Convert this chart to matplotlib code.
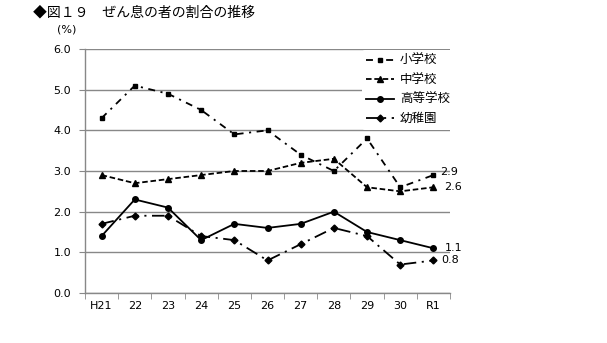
import matplotlib
matplotlib.use("Agg")
import matplotlib.pyplot as plt
import numpy as np

plt.rcParams['font.family'] = ['Noto Sans CJK JP', 'DejaVu Sans']
plt.rcParams['lines.scale_dashes'] = False

categories = ["H21", "22", "23", "24", "25", "26", "27", "28", "29", "30", "R1"]
shogakko = [4.3, 5.1, 4.9, 4.5, 3.9, 4.0, 3.4, 3.0, 3.8, 2.6, 2.9]
chugakko = [2.9, 2.7, 2.8, 2.9, 3.0, 3.0, 3.2, 3.3, 2.6, 2.5, 2.6]
kotogakko = [1.4, 2.3, 2.1, 1.3, 1.7, 1.6, 1.7, 2.0, 1.5, 1.3, 1.1]
yochien = [1.7, 1.9, 1.9, 1.4, 1.3, 0.8, 1.2, 1.6, 1.4, 0.7, 0.8]
series_names = ["小学校", "中学校", "高等学校", "幼稚園"]

fig = plt.figure(figsize=(6.07, 3.43), dpi=100)
ax = fig.add_axes([85/607, 1-293/343, (450-85)/607, (293-49)/343])

x = np.arange(len(categories))
lw = 1.3
ax.plot(x, shogakko, color='black', lw=lw, dashes=(5, 4, 1.5, 4), marker='s', ms=3.5, label=series_names[0])
ax.plot(x, chugakko, color='black', lw=lw, dashes=(4, 2), marker='^', ms=4, label=series_names[1])
ax.plot(x, kotogakko, color='black', lw=lw, ls='-', marker='o', ms=4, label=series_names[2])
ax.plot(x, yochien, color='black', lw=lw, dashes=(9, 4, 1.5, 4), marker='D', ms=3.5, label=series_names[3])

ax.set_xlim(-0.5, len(categories)-0.5)
ax.set_ylim(0, 6)
ax.set_yticks(np.arange(0, 6.01, 1.0))
ax.set_yticklabels([f"{v:.1f}" for v in np.arange(0, 6.01, 1.0)], fontsize=8, family='DejaVu Sans')
ax.set_xticks(x)
ax.set_xticklabels(categories, fontsize=8, family='DejaVu Sans')
ax.set_xticks(np.arange(-0.5, len(categories), 1.0), minor=True)
ax.tick_params(axis='x', which='major', length=0, pad=6)
ax.tick_params(axis='x', which='minor', length=4, color='#888888', direction='out')
ax.tick_params(axis='y', length=4, color='#888888', direction='out', pad=6)
ax.yaxis.grid(True, color='#888888', lw=1)
ax.set_axisbelow(True)
for s in ['top', 'right']:
    ax.spines[s].set_visible(False)
for s in ['left', 'bottom']:
    ax.spines[s].set_color('#888888')
    ax.spines[s].set_linewidth(1)

last = len(categories) - 1
ax.annotate(f"{shogakko[-1]:.1f}", (last, shogakko[-1]), xytext=(5, 2), textcoords='offset points', fontsize=8, va='center', family='DejaVu Sans')
ax.annotate(f"{chugakko[-1]:.1f}", (last, chugakko[-1]), xytext=(8, 0), textcoords='offset points', fontsize=8, va='center', family='DejaVu Sans')
ax.annotate(f"{kotogakko[-1]:.1f}", (last, kotogakko[-1]), xytext=(8, 0), textcoords='offset points', fontsize=8, va='center', family='DejaVu Sans')
ax.annotate(f"{yochien[-1]:.1f}", (last, yochien[-1]), xytext=(6, 0), textcoords='offset points', fontsize=8, va='center', family='DejaVu Sans')

leg = ax.legend(loc='upper left', bbox_to_anchor=(362/607, 1-50/343), bbox_transform=fig.transFigure,
                frameon=True, fontsize=9, handlelength=2.2, labelspacing=0.5, borderpad=0.35,
                handletextpad=0.5, borderaxespad=0)
leg.get_frame().set_facecolor('white')
leg.get_frame().set_edgecolor('none')
leg.get_frame().set_alpha(1)

fig.text(33/607, 1-12/343, "◆図１９　ぜん息の者の割合の推移", fontsize=10, va='center', ha='left')
fig.text(57/607, 1-30/343, "(%)", fontsize=8, va='center', ha='left', family='DejaVu Sans')

fig.savefig("out.png", dpi=100)
